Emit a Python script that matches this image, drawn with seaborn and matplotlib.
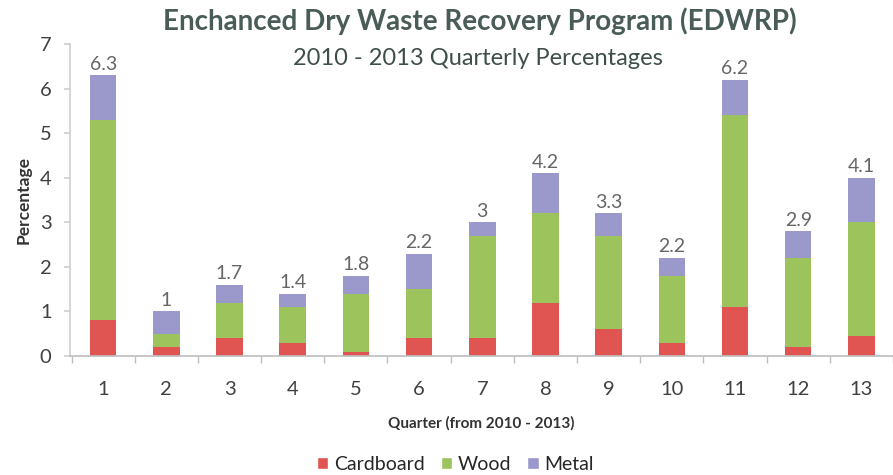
import numpy as np
import pandas as pd
import matplotlib
matplotlib.use("Agg")
import matplotlib.pyplot as plt
import seaborn as sns
from matplotlib.patches import Patch

# Data
quarters = [str(q) for q in range(1, 14)]
cardboard = [0.8, 0.2, 0.4, 0.3, 0.1, 0.4, 0.4, 1.2, 0.6, 0.3, 1.1, 0.2, 0.45]
wood = [4.5, 0.3, 0.8, 0.8, 1.3, 1.1, 2.3, 2.0, 2.1, 1.5, 4.3, 2.0, 2.55]
metal = [1.0, 0.5, 0.4, 0.3, 0.4, 0.8, 0.3, 0.9, 0.5, 0.4, 0.8, 0.6, 1.0]
total_labels = ["6.3", "1", "1.7", "1.4", "1.8", "2.2", "3", "4.2", "3.3", "2.2", "6.2", "2.9", "4.1"]

colors = {"Cardboard": "#E05552", "Wood": "#9DC35C", "Metal": "#9B98CC"}


def build_frame():
    df = pd.DataFrame({"Quarter": quarters, "Cardboard": cardboard,
                       "Wood": wood, "Metal": metal})
    df["cum_card"] = df["Cardboard"]
    df["cum_wood"] = df["cum_card"] + df["Wood"]
    df["cum_metal"] = df["cum_wood"] + df["Metal"]
    return df


def main():
    sns.set_theme(style="white")
    plt.rcParams["font.family"] = ["Lato", "DejaVu Sans"]

    df = build_frame()
    fig = plt.figure(figsize=(8.93, 4.75), dpi=100)
    ax = fig.add_axes([0.078, 0.2505, 0.922, 0.6565])

    # stacked bars: draw cumulative heights from the top layer down
    for col, name in [("cum_metal", "Metal"), ("cum_wood", "Wood"), ("cum_card", "Cardboard")]:
        sns.barplot(data=df, x="Quarter", y=col, color=colors[name], width=0.42,
                    saturation=1, linewidth=0, ax=ax, order=quarters)

    top_bars = ax.patches[:len(quarters)]
    for bar, lab in zip(top_bars, total_labels):
        ax.text(bar.get_x() + bar.get_width() / 2, bar.get_height() + 0.06, lab,
                ha="center", va="bottom", fontsize=14, color="#666666")

    ax.set_ylim(0, 7)
    ax.set_xlim(-0.53, 12.33)
    ax.set_yticks(range(0, 8))
    ax.set_xticks(np.arange(-0.5, 13, 1), minor=True)

    for side in ["top", "right"]:
        ax.spines[side].set_visible(False)
    ax.spines["left"].set_color("#D0D0D0")
    ax.spines["bottom"].set_color("#BFBFBF")

    ax.tick_params(axis="y", which="major", left=True, length=4, color="#D0D0D0",
                   labelsize=14.5, labelcolor="#404040", pad=9)
    ax.tick_params(axis="x", which="major", bottom=False, labelsize=14.5,
                   labelcolor="#404040", pad=12)
    ax.tick_params(axis="x", which="minor", bottom=True, length=5, color="#BFBFBF")

    ax.set_ylabel("Percentage", fontsize=12.5, fontweight="bold", color="#333333", labelpad=6)
    ax.set_xlabel("Quarter (from 2010 - 2013)", fontsize=11, fontweight="bold",
                  color="#333333", labelpad=13)

    fig.text(0.5375, 0.955, "Enchanced Dry Waste Recovery Program (EDWRP)",
             ha="center", va="center", fontsize=20, fontweight="bold", color="#4A5C58")
    fig.text(0.535, 0.877, "2010 - 2013 Quarterly Percentages",
             ha="center", va="center", fontsize=17, color="#3E4E4A")

    handles = [Patch(facecolor=colors[n], label=n) for n in ["Cardboard", "Wood", "Metal"]]
    fig.legend(handles=handles, loc="center", bbox_to_anchor=(0.51, 0.022), ncol=3,
               frameon=False, fontsize=14, handlelength=0.6, handleheight=0.6,
               handletextpad=0.3, columnspacing=0.8)

    fig.savefig("out.png", dpi=100)
    plt.close(fig)


if __name__ == "__main__":
    main()
